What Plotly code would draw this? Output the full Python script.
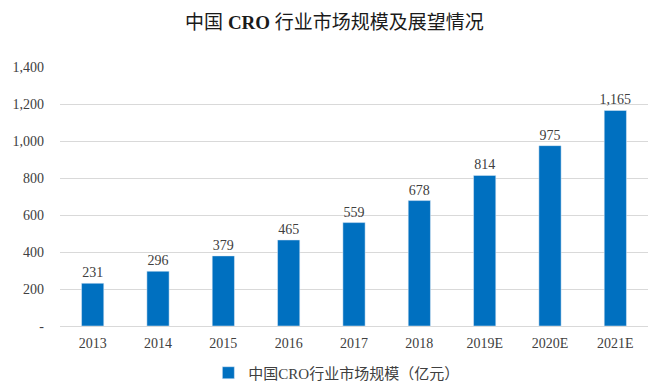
import plotly.graph_objects as go

years = ["2013", "2014", "2015", "2016", "2017", "2018", "2019E", "2020E", "2021E"]
values = [231, 296, 379, 465, 559, 678, 814, 975, 1165]
labels = ["231", "296", "379", "465", "559", "678", "814", "975", "1,165"]
tick_vals = [0, 200, 400, 600, 800, 1000, 1200, 1400]
tick_text = ["-", "200", "400", "600", "800", "1,000", "1,200", "1,400"]

FONT = "Liberation Serif, Times New Roman, Noto Sans CJK SC, serif"

fig = go.Figure()
fig.add_trace(go.Bar(
    x=years, y=values, text=labels, textposition="outside",
    textfont=dict(family=FONT, size=14, color="#404040"),
    marker=dict(color="#0070C0"),
    name="中国CRO行业市场规模（亿元）",
    cliponaxis=False, constraintext="none",
))
fig.update_layout(
    width=653, height=379,
    margin=dict(l=52, r=13, t=59, b=61, autoexpand=False),
    paper_bgcolor="white", plot_bgcolor="white",
    bargap=0.66,
    title=dict(text="中国 <b>CRO</b> 行业市场规模及展望情况", x=0.5, xanchor="center",
               yref="container", y=0.963, yanchor="middle",
               font=dict(family=FONT, size=19, color="#1a1a1a")),
    showlegend=True,
    legend=dict(orientation="h", x=0.47, xanchor="center",
                yref="container", y=0.037, yanchor="middle",
                itemwidth=30,
                font=dict(family=FONT, size=15, color="#404040")),
    font=dict(family=FONT, size=14, color="#404040"),
)
fig.update_yaxes(range=[0, 1400], tickvals=tick_vals, ticktext=tick_text,
                 showgrid=True, gridcolor="#D9D9D9", gridwidth=1,
                 zeroline=False, ticks="", ticklabelstandoff=15,
                 tickfont=dict(family=FONT, size=14, color="#404040"))
fig.update_xaxes(showline=True, linecolor="#D9D9D9", ticks="", ticklabelstandoff=4,
                 tickfont=dict(family=FONT, size=14, color="#404040"))
fig.write_html("out.html")
